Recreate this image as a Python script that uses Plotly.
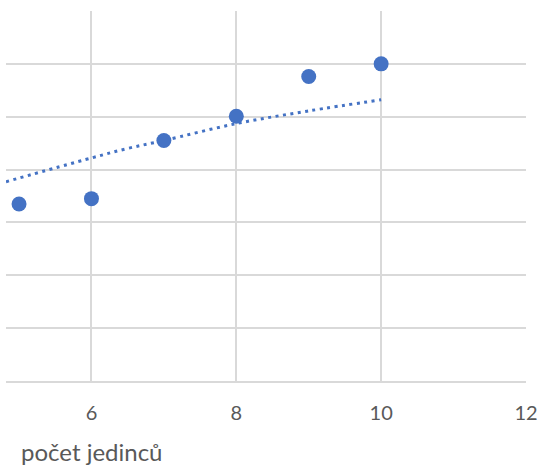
import plotly.graph_objects as go

# data
pocet = [5, 6, 7, 8, 9, 10]
hodnota = [3.35, 3.45, 4.55, 5.01, 5.76, 6.0]

# dotted trend curve
trend_x = [4.82, 6.0, 6.5, 7.0, 8.0, 9.0, 10.0]
trend_y = [3.77, 4.22, 4.40, 4.55, 4.87, 5.11, 5.32]

x_ticks = [6, 8, 10, 12]
blue = "#4472C4"
grid = "#D9D9D9"
txt = "#595959"

fig = go.Figure()
fig.add_trace(go.Scatter(
    x=trend_x, y=trend_y, mode="lines",
    line=dict(color=blue, width=3, dash="3px,4.5px", shape="spline"),
    hoverinfo="skip", showlegend=False,
))
fig.add_trace(go.Scatter(
    x=pocet, y=hodnota, mode="markers",
    marker=dict(color=blue, size=15, line=dict(width=0)),
    showlegend=False,
))

fig.update_layout(
    width=542, height=468,
    margin=dict(l=6, r=16, t=11, b=87, autoexpand=False),
    paper_bgcolor="white", plot_bgcolor="white",
    font=dict(family="Lato, Open Sans, sans-serif", size=16, color=txt),
    xaxis=dict(
        range=[4.82, 12], tickvals=x_ticks, showgrid=True,
        gridcolor=grid, gridwidth=1.6, zeroline=False, automargin=False,
        showline=True, linecolor=grid, linewidth=1.6,
        ticks="", ticklen=0, ticklabelstandoff=13,
        tickfont=dict(size=20, color=txt),
    ),
    yaxis=dict(
        range=[0, 7], dtick=1, showgrid=True, gridcolor=grid, gridwidth=1.6,
        zeroline=False, showticklabels=False, ticks="", automargin=False,
    ),
    annotations=[dict(
        text="počet jedinců", xref="paper", yref="paper",
        x=13 / 520, y=-0.19, xanchor="left", yanchor="middle",
        showarrow=False, font=dict(size=24, color=txt),
    )],
)

# page body has an 8px default margin, drop it so the chart sits at 0,0
fig.write_html("out.html", config={"displayModeBar": False},
               post_script="document.body.style.margin='0';")
